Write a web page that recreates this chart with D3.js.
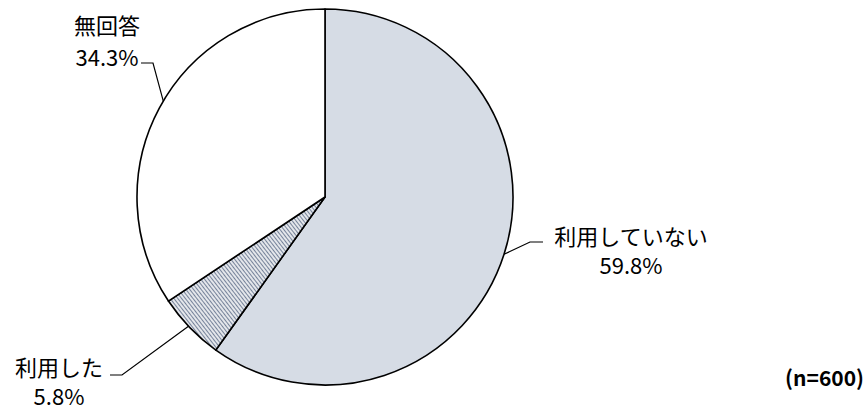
<!DOCTYPE html>
<html>
<head>
<meta charset="utf-8">
<script src="https://cdn.jsdelivr.net/npm/d3@7"></script>
<style>
  body { margin: 0; background: #fff; }
  text { font-family: "Noto Sans CJK JP", sans-serif; }
</style>
</head>
<body>
<div id="container"></div>
<script>
/* CONSTANTS AND GLOBALS */
const width = 866;
const height = 409;
const cx = 325, cy = 197, radius = 188;

/* DATA */
const categories = ["利用していない", "利用した", "無回答"];
const values = [59.8, 5.8, 34.3];
const pctLabels = ["59.8%", "5.8%", "34.3%"];
const sampleNote = "(n=600)";

const svg = d3.select("#container")
  .append("svg")
  .attr("width", width)
  .attr("height", height);

// hatch pattern for 利用した
const defs = svg.append("defs");
const pat = defs.append("pattern")
  .attr("id", "hatch")
  .attr("patternUnits", "userSpaceOnUse")
  .attr("width", 3)
  .attr("height", 6)
  .attr("patternTransform", "rotate(-38)");
pat.append("rect").attr("width", 3).attr("height", 6).attr("fill", "#fff");
pat.append("line")
  .attr("x1", 1.5).attr("y1", 0).attr("x2", 1.5).attr("y2", 6)
  .attr("stroke", "#76839a").attr("stroke-width", 1.4);

const fills = ["#d6dce5", "url(#hatch)", "#ffffff"];

const pie = d3.pie().sort(null).value(d => d);
const arcs = pie(values);
const arc = d3.arc().innerRadius(0).outerRadius(radius);

const g = svg.append("g").attr("transform", `translate(${cx},${cy})`);

g.selectAll("path")
  .data(arcs)
  .join("path")
  .attr("d", arc)
  .attr("fill", (d, i) => fills[i])
  .attr("stroke", "#000")
  .attr("stroke-width", 1.6)
  .attr("stroke-linejoin", "round");

// label layout: leader start (fraction along slice), elbow, end, label centre
const labelSpec = [
  { t: 0.5, elbow: [530, 242], end: [543, 242], cx: 631, y1: 235, y2: 264 },
  { t: 0.53, elbow: [122, 375], end: [110, 375], cx: 59, y1: 366, y2: 395 },
  { t: 0.52, elbow: [153, 63], end: [141, 63], cx: 107, y1: 24, y2: 56 }
];

arcs.forEach((d, i) => {
  const s = labelSpec[i];
  const a = d.startAngle + (d.endAngle - d.startAngle) * s.t;
  const px = cx + Math.sin(a) * radius;
  const py = cy - Math.cos(a) * radius;
  svg.append("polyline")
    .attr("points", [[px, py], s.elbow, s.end].map(p => p.join(",")).join(" "))
    .attr("fill", "none")
    .attr("stroke", "#000")
    .attr("stroke-width", 1.2);
  svg.append("text")
    .attr("x", s.cx).attr("y", s.y1)
    .attr("text-anchor", "middle")
    .attr("dominant-baseline", "central")
    .attr("font-size", 22)
    .text(categories[i]);
  svg.append("text")
    .attr("x", s.cx).attr("y", s.y2)
    .attr("text-anchor", "middle")
    .attr("dominant-baseline", "central")
    .attr("font-size", 22)
    .text(pctLabels[i]);
});

svg.append("text")
  .attr("x", 864).attr("y", 377)
  .attr("text-anchor", "end")
  .attr("dominant-baseline", "central")
  .attr("font-size", 21)
  .attr("font-weight", "bold")
  .text(sampleNote);
</script>
</body>
</html>
